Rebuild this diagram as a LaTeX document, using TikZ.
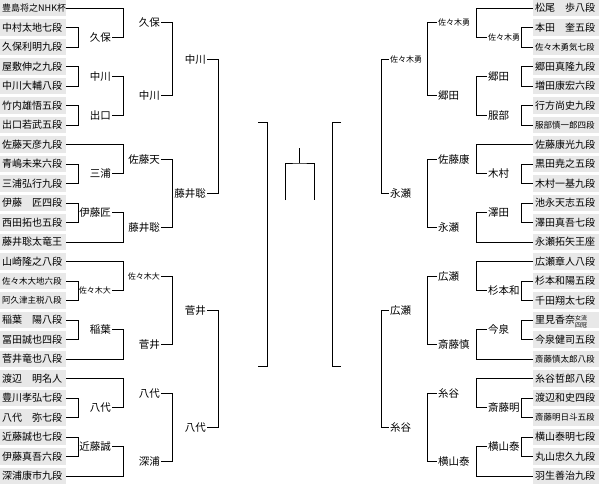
\documentclass[tikz,border=0pt]{standalone}
\usepackage{fontspec}
\newfontfamily\jp{Noto Sans CJK JP}
\definecolor{boxgray}{RGB}{232,232,232}
\newcommand\brk[3]{\draw[conn] (#1) -- (#1 -| #3) -- (#2 -| #3) -- (#2);}
\begin{document}
\begin{tikzpicture}[x=1pt,y=-1pt,
  conn/.style={draw=black,line width=0.8pt},
  ent/.style={fill=boxgray,anchor=west,minimum width=66pt,minimum height=16.5pt,
    inner xsep=2pt,inner ysep=0pt,text width=62pt,align=left,
    font=\jp\fontsize{10}{10}\selectfont,text height=8.8pt,text depth=1.2pt},
  sent/.style={ent,font=\jp\fontsize{8.5}{8.5}\selectfont,text height=7.5pt,text depth=1pt},
  lab/.style={inner sep=1pt,font=\jp\fontsize{10.5}{10.5}\selectfont,text height=9.2pt,text depth=1.3pt},
  slab/.style={lab,font=\jp\fontsize{8}{8}\selectfont,text height=7pt,text depth=1pt},
  ll/.style={lab,anchor=east}, sll/.style={slab,anchor=east},
  rl/.style={lab,anchor=west}, srl/.style={slab,anchor=west}]
\useasboundingbox (0,0) rectangle (599,483);
% column coordinates
\coordinate (v1) at (78,0);  \coordinate (v2) at (123,0);
\coordinate (v3) at (172,0); \coordinate (v4) at (218,0);
\coordinate (u1) at (521,0); \coordinate (u2) at (476,0);
\coordinate (u3) at (427,0); \coordinate (u4) at (381,0);
% ---------------- left entries
\node[ent,font=\jp\fontsize{9}{9}\selectfont] (L0) at (0,8) {豊島将之NHK杯};
\node[ent] (L1) at (0,27.5) {中村太地七段};
\node[ent] (L2) at (0,47) {久保利明九段};
\node[ent] (L3) at (0,66.5) {屋敷伸之九段};
\node[ent] (L4) at (0,86) {中川大輔八段};
\node[ent] (L5) at (0,105.5) {竹内雄悟五段};
\node[ent] (L6) at (0,125) {出口若武五段};
\node[ent] (L7) at (0,144.5) {佐藤天彦九段};
\node[ent] (L8) at (0,164) {青嶋未来六段};
\node[ent] (L9) at (0,183.5) {三浦弘行九段};
\node[ent] (L10) at (0,203) {伊藤　匠四段};
\node[ent] (L11) at (0,222.5) {西田拓也五段};
\node[ent] (L12) at (0,242) {藤井聡太竜王};
\node[ent] (L13) at (0,261.5) {山崎隆之八段};
\node[sent] (L14) at (0,281) {佐々木大地六段};
\node[sent] (L15) at (0,300.5) {阿久津主税八段};
\node[ent] (L16) at (0,320) {稲葉　陽八段};
\node[ent] (L17) at (0,339.5) {冨田誠也四段};
\node[ent] (L18) at (0,359) {菅井竜也八段};
\node[ent] (L19) at (0,378.5) {渡辺　明名人};
\node[ent] (L20) at (0,398) {豊川孝弘七段};
\node[ent] (L21) at (0,417.5) {八代　弥七段};
\node[ent] (L22) at (0,437) {近藤誠也七段};
\node[ent] (L23) at (0,456.5) {伊藤真吾六段};
\node[ent] (L24) at (0,476) {深浦康市九段};
% ---------------- right entries
\node[ent] (R0) at (533,8) {松尾　歩八段};
\node[ent] (R1) at (533,27.5) {本田　奎五段};
\node[sent] (R2) at (533,47) {佐々木勇気七段};
\node[ent] (R3) at (533,66.5) {郷田真隆九段};
\node[ent] (R4) at (533,86) {増田康宏六段};
\node[ent] (R5) at (533,105.5) {行方尚史九段};
\node[sent] (R6) at (533,125) {服部慎一郎四段};
\node[ent] (R7) at (533,144.5) {佐藤康光九段};
\node[ent] (R8) at (533,164) {黒田尭之五段};
\node[ent] (R9) at (533,183.5) {木村一基九段};
\node[ent] (R10) at (533,203) {池永天志五段};
\node[ent] (R11) at (533,222.5) {澤田真吾七段};
\node[ent] (R12) at (533,242) {永瀬拓矢王座};
\node[ent] (R13) at (533,261.5) {広瀬章人八段};
\node[ent] (R14) at (533,281) {杉本和陽五段};
\node[ent] (R15) at (533,300.5) {千田翔太七段};
\node[ent] (R16) at (533,320) {里見香奈\raisebox{-0.3pt}{\fontsize{6}{7}\selectfont\renewcommand\arraystretch{1}\begin{tabular}{@{}c@{}}女流\\四冠\end{tabular}}};
\node[ent] (R17) at (533,339.5) {今泉健司五段};
\node[sent] (R18) at (533,359) {斎藤慎太郎八段};
\node[ent] (R19) at (533,378.5) {糸谷哲郎八段};
\node[ent] (R20) at (533,398) {渡辺和史四段};
\node[sent] (R21) at (533,417.5) {斎藤明日斗五段};
\node[ent] (R22) at (533,437) {横山泰明七段};
\node[ent] (R23) at (533,456.5) {丸山忠久九段};
\node[ent] (R24) at (533,476) {羽生善治九段};
% ---------------- left labels
\node[ll] (a1) at (112,37.25) {久保};
\node[ll] (a2) at (112,76.25) {中川};
\node[ll] (a3) at (112,115.25) {出口};
\node[ll] (a4) at (112,173.75) {三浦};
\node[ll] (a5) at (112,212.75) {伊藤匠};
\node[sll] (a6) at (112,290.75) {佐々木大};
\node[ll] (a7) at (112,329.75) {稲葉};
\node[ll] (a8) at (112,407.75) {八代};
\node[ll] (a9) at (112,446.75) {近藤誠};
\node[ll] (b1) at (161,22.6) {久保};
\node[ll] (b2) at (161,95.75) {中川};
\node[ll] (b3) at (161,159.1) {佐藤天};
\node[ll] (b4) at (161,227.4) {藤井聡};
\node[sll] (b5) at (161,276.1) {佐々木大};
\node[ll] (b6) at (161,344.4) {菅井};
\node[ll] (b7) at (161,393.1) {八代};
\node[ll] (b8) at (161,461.4) {深浦};
\node[ll] (c1) at (207,59.2) {中川};
\node[ll] (c2) at (207,193.25) {藤井聡};
\node[ll] (c3) at (207,310.25) {菅井};
\node[ll] (c4) at (207,427.25) {八代};
% ---------------- right labels
\node[srl] (d1) at (487,37.25) {佐々木勇};
\node[rl] (d2) at (487,76.25) {郷田};
\node[rl] (d3) at (487,115.25) {服部};
\node[rl] (d4) at (487,173.75) {木村};
\node[rl] (d5) at (487,212.75) {澤田};
\node[rl] (d6) at (487,290.75) {杉本和};
\node[rl] (d7) at (487,329.75) {今泉};
\node[rl] (d8) at (487,407.75) {斎藤明};
\node[rl] (d9) at (487,446.75) {横山泰};
\node[srl] (e1) at (437,22.6) {佐々木勇};
\node[rl] (e2) at (437,95.75) {郷田};
\node[rl] (e3) at (437,159.1) {佐藤康};
\node[rl] (e4) at (437,227.4) {永瀬};
\node[rl] (e5) at (437,276.1) {広瀬};
\node[rl] (e6) at (437,344.4) {斎藤慎};
\node[rl] (e7) at (437,393.1) {糸谷};
\node[rl] (e8) at (437,461.4) {横山泰};
\node[srl] (f1) at (389,59.2) {佐々木勇};
\node[rl] (f2) at (389,193.25) {永瀬};
\node[rl] (f3) at (389,310.25) {広瀬};
\node[rl] (f4) at (389,427.25) {糸谷};
% ---------------- left brackets
\brk{L1.east}{L2.east}{v1} \brk{L0.east}{a1.east}{v2}
\brk{L3.east}{L4.east}{v1} \brk{L5.east}{L6.east}{v1} \brk{a2.east}{a3.east}{v2}
\brk{L8.east}{L9.east}{v1} \brk{L7.east}{a4.east}{v2}
\brk{L10.east}{L11.east}{v1} \brk{a5.east}{L12.east}{v2}
\brk{L14.east}{L15.east}{v1} \brk{L13.east}{a6.east}{v2}
\brk{L16.east}{L17.east}{v1} \brk{a7.east}{L18.east}{v2}
\brk{L20.east}{L21.east}{v1} \brk{L19.east}{a8.east}{v2}
\brk{L22.east}{L23.east}{v1} \brk{a9.east}{L24.east}{v2}
\brk{b1.east}{b2.east}{v3} \brk{b3.east}{b4.east}{v3}
\brk{b5.east}{b6.east}{v3} \brk{b7.east}{b8.east}{v3}
\brk{c1.east}{c2.east}{v4} \brk{c3.east}{c4.east}{v4}
% ---------------- right brackets
\brk{R1.west}{R2.west}{u1} \brk{R0.west}{d1.west}{u2}
\brk{R3.west}{R4.west}{u1} \brk{R5.west}{R6.west}{u1} \brk{d2.west}{d3.west}{u2}
\brk{R8.west}{R9.west}{u1} \brk{R7.west}{d4.west}{u2}
\brk{R10.west}{R11.west}{u1} \brk{d5.west}{R12.west}{u2}
\brk{R14.west}{R15.west}{u1} \brk{R13.west}{d6.west}{u2}
\brk{R16.west}{R17.west}{u1} \brk{d7.west}{R18.west}{u2}
\brk{R20.west}{R21.west}{u1} \brk{R19.west}{d8.west}{u2}
\brk{R22.west}{R23.west}{u1} \brk{d9.west}{R24.west}{u2}
\brk{e1.west}{e2.west}{u3} \brk{e3.west}{e4.west}{u3}
\brk{e5.west}{e6.west}{u3} \brk{e7.west}{e8.west}{u3}
\brk{f1.west}{f2.west}{u4} \brk{f3.west}{f4.west}{u4}
% ---------------- final brackets and centre
\coordinate (fla) at (258,122); \coordinate (flb) at (258,366);
\coordinate (fra) at (341,122); \coordinate (frb) at (341,366);
\draw[conn] (fla) -- ++(9,0) |- (flb);
\draw[conn] (fra) -- ++(-9,0) |- (frb);
\coordinate (ctop) at (299.5,148); \coordinate (cmid) at (299.5,163);
\coordinate (cl) at (285,200); \coordinate (cr) at (314,200);
\draw[conn] (ctop) -- (cmid);
\draw[conn] (cl) |- (cmid) -| (cr);
\end{tikzpicture}
\end{document}
